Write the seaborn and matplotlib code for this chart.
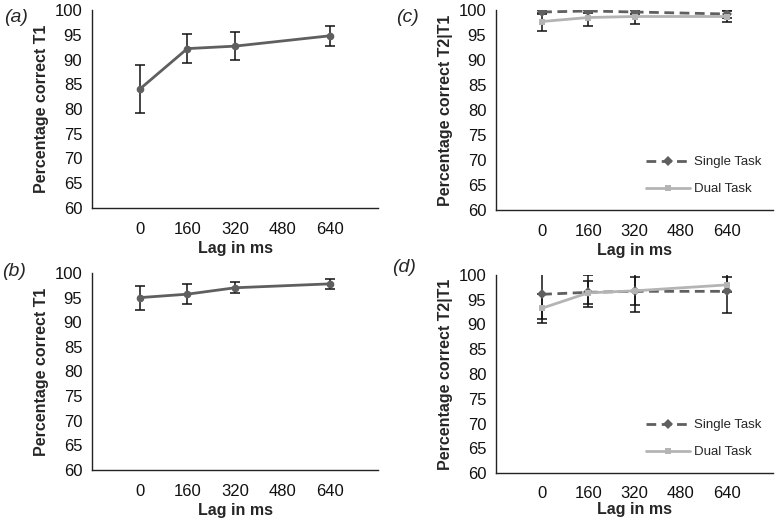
import numpy as np
import pandas as pd
import matplotlib
matplotlib.use('Agg')
import matplotlib.pyplot as plt
import seaborn as sns

# lag conditions (ms)
lags = [0, 160, 320, 640]

# (a) T1 accuracy, experiment 1
a_mean = [84.0, 92.2, 92.7, 94.8]
a_err = [4.8, 3.0, 2.9, 2.05]

# (b) T1 accuracy, experiment 2
b_mean = [95.0, 95.7, 97.0, 97.8]
b_err = [2.45, 2.05, 1.15, 1.0]

# (c) T2|T1 accuracy, experiment 1
c_single = [99.6, 99.8, 99.6, 99.2]
c_single_err = [0.4, 0.3, 0.4, 0.8]
c_dual = [97.7, 98.5, 98.7, 98.7]
c_dual_err = [1.8, 1.7, 1.4, 1.1]

# (d) T2|T1 accuracy, experiment 2 (asymmetric bars: lower, upper)
d_single = [96.1, 96.5, 96.7, 96.7]
d_single_lo = [5.0, 3.0, 4.2, 4.3]
d_single_hi = [4.1, 3.4, 3.5, 3.5]
d_dual = [93.3, 96.4, 96.8, 98.0]
d_dual_lo = [2.9, 2.3, 2.8, 1.5]
d_dual_hi = [2.9, 2.4, 2.7, 1.5]

DARK = '#5f5f5f'
LIGHT = '#b4b4b4'

sns.set_style('white')
plt.rcParams['font.family'] = ['Liberation Sans', 'DejaVu Sans']
plt.rcParams['axes.linewidth'] = 1.0

fig = plt.figure(figsize=(7.81, 5.23), dpi=100)
W, H = 781, 523


def add_ax(left, top, right, bottom):
    return fig.add_axes([left / W, 1 - bottom / H, (right - left) / W, (bottom - top) / H])


def style_axis(ax, ylabel, xpad=6, xlabelpad=3):
    ax.set_xlim(-160, 800)
    ax.set_ylim(60, 100)
    ax.set_xticks([-160] + lags[:3] + [480, 640])
    ax.set_xticklabels(['', '0', '160', '320', '480', '640'])
    ax.set_yticks(np.arange(60, 101, 5))
    ax.tick_params(direction='out', length=4, width=1, colors='#222222',
                   labelsize=12, pad=3, labelcolor='#111111')
    ax.tick_params(axis='x', pad=xpad)
    for s in ['top', 'right']:
        ax.spines[s].set_visible(False)
    for s in ['left', 'bottom']:
        ax.spines[s].set_color('#222222')
    ax.set_xlabel('Lag in ms', fontsize=11.5, fontweight='bold', labelpad=xlabelpad)
    ax.set_ylabel(ylabel, fontsize=11.5, fontweight='bold', labelpad=4)


def single_panel(ax, mean, err):
    df = pd.DataFrame({'lag': lags, 'pct': mean})
    ax.errorbar(lags, mean, yerr=err, fmt='none', ecolor='#111111',
                elinewidth=1.1, capsize=3.5, capthick=1.1, zorder=1)
    sns.lineplot(data=df, x='lag', y='pct', ax=ax, color=DARK, lw=2,
                 marker='o', markersize=5.5, markeredgewidth=0, zorder=3)


def dual_panel(ax, s_mean, s_err, d_mean, d_err, legend_y):
    df = pd.DataFrame({
        'lag': lags * 2,
        'pct': s_mean + d_mean,
        'task': ['Single Task'] * 4 + ['Dual Task'] * 4,
    })
    ax.errorbar(lags, s_mean, yerr=s_err, fmt='none', ecolor='#111111',
                elinewidth=1.1, capsize=3.5, capthick=1.1, zorder=1)
    ax.errorbar(lags, d_mean, yerr=d_err, fmt='none', ecolor='#111111',
                elinewidth=1.1, capsize=3.5, capthick=1.1, zorder=1)
    sns.lineplot(data=df, x='lag', y='pct', hue='task', style='task', ax=ax,
                 palette={'Single Task': DARK, 'Dual Task': LIGHT},
                 markers={'Single Task': 'D', 'Dual Task': 's'},
                 dashes={'Single Task': (3.5, 2.0), 'Dual Task': ''},
                 lw=2, markersize=5, markeredgewidth=0, zorder=3)
    ax.legend(title=None, frameon=False, loc='lower right',
              bbox_to_anchor=(1.0, legend_y), fontsize=9.5,
              labelspacing=1.1, handlelength=3.3, handletextpad=0.3)


ax_a = add_ax(92, 10, 378, 208)
single_panel(ax_a, a_mean, a_err)
style_axis(ax_a, 'Percentage correct T1')

ax_b = add_ax(92, 273, 378, 470)
single_panel(ax_b, b_mean, b_err)
style_axis(ax_b, 'Percentage correct T1')

ax_c = add_ax(496, 10, 773, 210)
dual_panel(ax_c, c_single, c_single_err, c_dual, c_dual_err, 0.015)
style_axis(ax_c, 'Percentage correct T2|T1')

ax_d = add_ax(496, 275, 773, 473)
dual_panel(ax_d, d_single, [d_single_lo, d_single_hi],
           d_dual, [d_dual_lo, d_dual_hi], 0.015)
style_axis(ax_d, 'Percentage correct T2|T1', xpad=5, xlabelpad=1)

for lab, x, y in [('(a)', 4, 17), ('(b)', 2, 272), ('(c)', 396, 17), ('(d)', 392, 268)]:
    fig.text(x / W, 1 - y / H, lab, fontsize=14, fontstyle='italic',
             va='center', ha='left')

fig.savefig('out.png', dpi=100)
